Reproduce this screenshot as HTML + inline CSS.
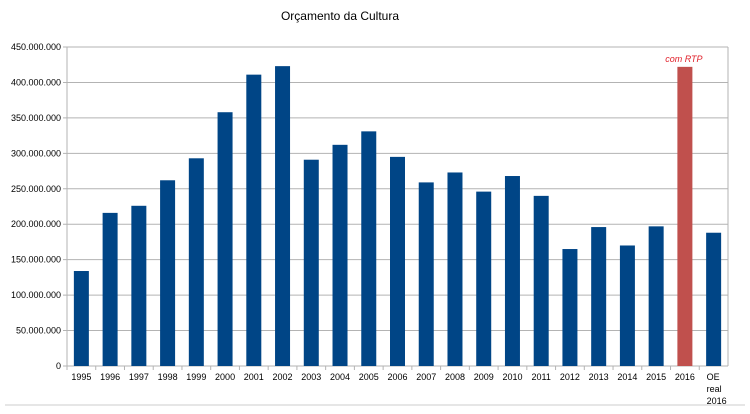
<!DOCTYPE html>
<html><head><meta charset="utf-8"><style>
body{margin:0;background:#fff;}
svg{display:block;font-family:"Liberation Sans",sans-serif;}
</style></head><body>
<svg id="c" width="750" height="414">
<text x="340" y="20" font-size="12" text-anchor="middle" fill="#000">Orçamento da Cultura</text>
<line x1="5" y1="405" x2="745" y2="405" stroke="#ccc"/>
<g id="grid"></g><g id="bars"></g><g id="xl"></g>
</svg>
<script>
const categories=["1995","1996","1997","1998","1999","2000","2001","2002","2003","2004","2005","2006","2007","2008","2009","2010","2011","2012","2013","2014","2015","2016","OE|real|2016"];
const values=[134,216,226,262,293,358,411,423,291,312,331,295,259,273,246,268,240,165,196,170,197,422,188];
const tickValues=[0,50,100,150,200,250,300,350,400,450];
const tickLabels=["0","50.000.000","100.000.000","150.000.000","200.000.000","250.000.000","300.000.000","350.000.000","400.000.000","450.000.000"];
const highlight="2016";
const L=67,R=728,T=47,B=366,NS="http://www.w3.org/2000/svg";
const y=v=>B-(v/450)*(B-T);
const bw=(R-L)/categories.length;
const x=i=>L+i*bw;
function mk(t,a,p){const e=document.createElementNS(NS,t);for(const k in a)e.setAttribute(k,a[k]);p.appendChild(e);return e;}
const g=document.getElementById('grid'),bg=document.getElementById('bars'),xg=document.getElementById('xl');
tickValues.forEach((v,i)=>{
 const l=mk('line',{x1:L-4,x2:R,y1:y(v),y2:y(v),stroke:'#b3b3b3'},g);
 
 
 const t=mk('text',{x:L-6,y:y(v)+3,'font-size':'9','text-anchor':'end',fill:'#000'},g);
 t.textContent=tickLabels[i];
 
 
});
const ax=mk('line',{x1:L,x2:L,y1:T,y2:B,stroke:'#b3b3b3'},g);


const ar=mk('line',{x1:R,x2:R,y1:T,y2:B,stroke:'#b3b3b3'},g);


categories.forEach((c,i)=>{
 const v=values[i];
 const r=mk('rect',{x:x(i)+bw/2-7.5,y:y(v),width:15,height:B-y(v),fill:c===highlight?'#c0504d':'#004586'},bg);
 
 
 const tk=mk('line',{x1:x(i),x2:x(i),y1:B,y2:B+4,stroke:'#b3b3b3'},xg);
 
 
 const parts=c.split('|');
 parts.forEach((p,j)=>{
  const t=mk('text',{x:parts.length>1?x(i)+bw/2-7:x(i)+bw/2,y:B+14+j*12,'font-size':'9','text-anchor':parts.length>1?'start':'middle',fill:'#000'},xg);
  t.textContent=p;
  
  
 });
 if(c===highlight){
  const a=mk('text',{x:x(i)+bw/2-1,y:y(v)-5,'font-size':'9','font-style':'italic','text-anchor':'middle',fill:'#e0202a'},bg);
  a.textContent='com RTP';
  
  
 }
});
</script>
</body></html>
